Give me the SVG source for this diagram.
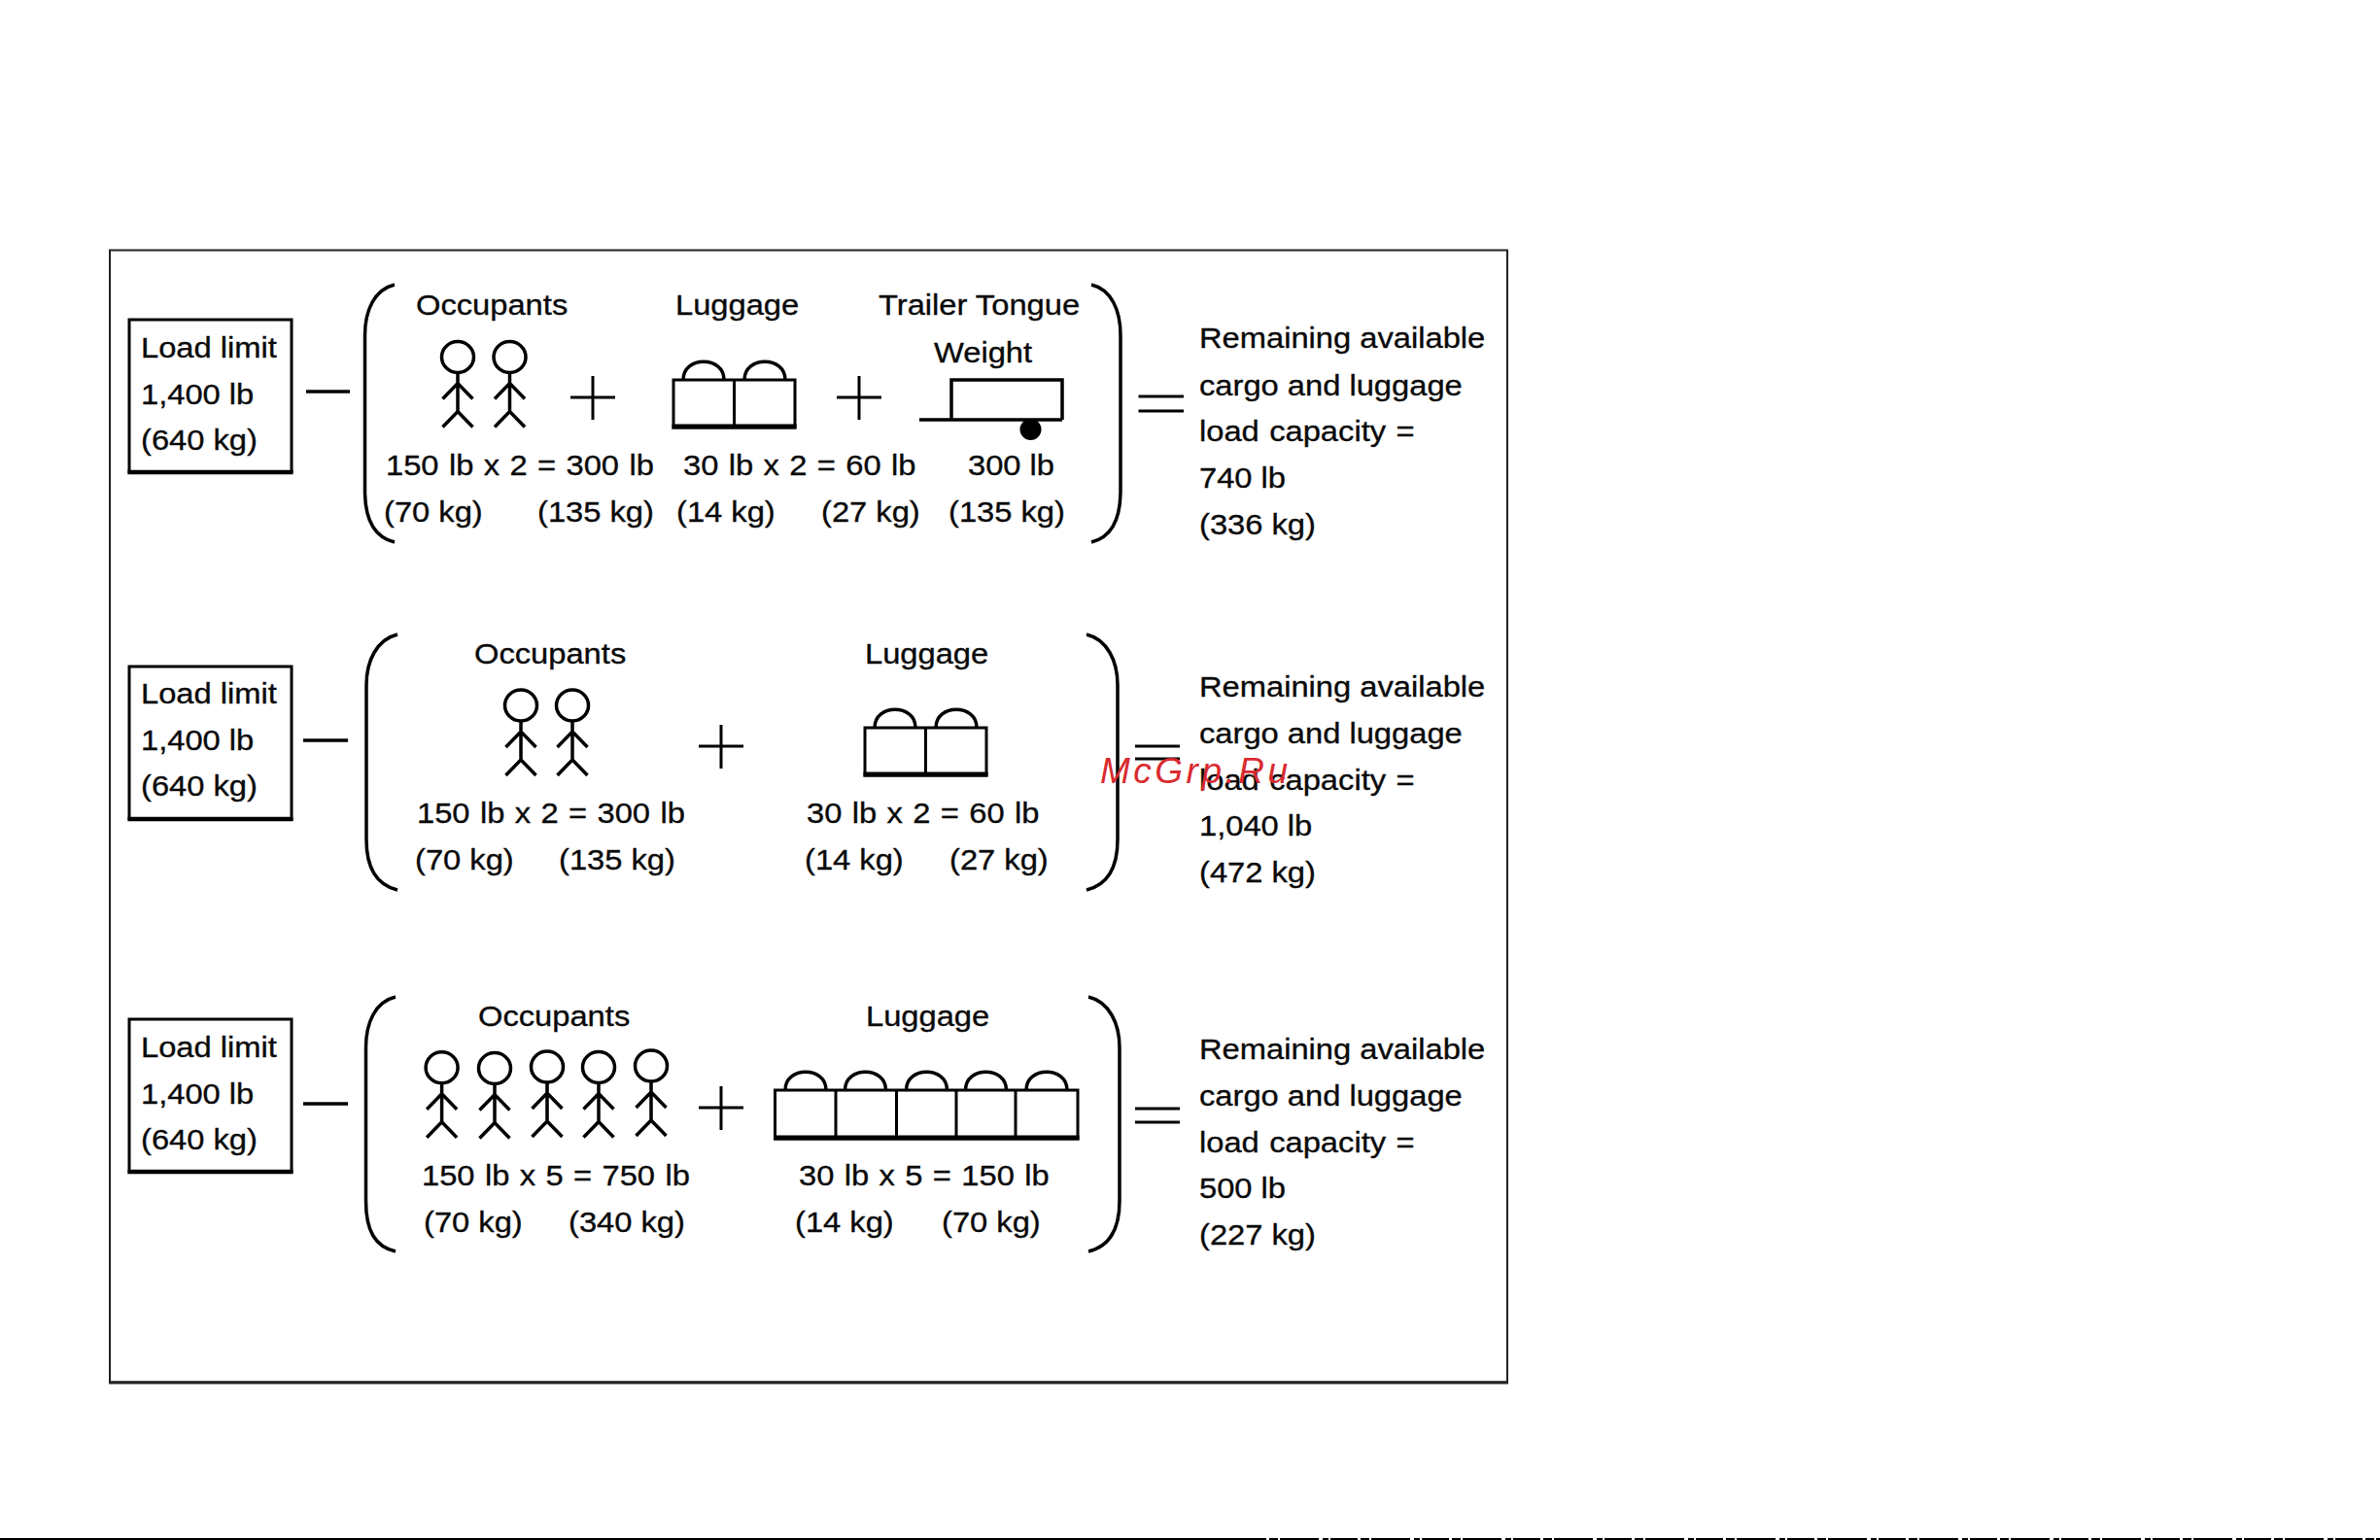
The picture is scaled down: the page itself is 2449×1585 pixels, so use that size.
<svg xmlns="http://www.w3.org/2000/svg" width="2449" height="1585" viewBox="0 0 2449 1585">
<style>
.t{font-family:"Liberation Sans",Arial,sans-serif;font-size:30px;fill:#0a0a0a;stroke:#0a0a0a;stroke-width:.35px}
.e{word-spacing:1.2px}
.l{fill:none;stroke:#000;stroke-width:3.500}
.th{fill:none;stroke:#000;stroke-width:3}
.box{fill:#fff;stroke:#000;stroke-width:3}
.wm{font-family:"Liberation Sans",Arial,sans-serif;font-style:italic;font-size:37px;letter-spacing:3.500px;fill:#d92b2f}
</style>
<defs>
<g id="person" class="l"><ellipse cx="0" cy="0" rx="16.500" ry="16"/><path d="M0 16V56M-15.500 43L0 27L15.500 43M-15.500 72L0 56L15.500 72"/></g>
<g id="plus" class="th"><path d="M-23 0H23M0 -22V23"/></g>
<path id="handle" class="l" d="M0 0C0 -25 42 -25 42 0"/>
<g id="bags2"><rect class="box" x="0" y="0" width="125" height="49"/><path d="M-1.500 48H126.500" fill="none" stroke="#000" stroke-width="5"/><path class="th" d="M62.500 0V49"/><use href="#handle" x="10"/><use href="#handle" x="73"/></g>
<g id="load"><rect class="box" x="1" y="0" width="167" height="157"/><path d="M-.5 157H169.500" fill="none" stroke="#000" stroke-width="4.500"/></g>
</defs>
<rect x="0" y="0" width="2449" height="1585" fill="#fff"/>
<g id="frame"><rect x="113" y="257.500" width="1438" height="1165" fill="none" stroke="#222" stroke-width="2"/><path d="M112 1423H1552" stroke="#222" stroke-width="3"/></g>

<g id="connectors">
<path class="l" d="M315 403H360M312 762H358M312 1136H358"/>
<path class="th" d="M1171.500 408H1218M1171.500 423H1218M1168 768H1214M1168 781H1214M1168 1141H1214M1168 1155H1214"/>
</g>

<g id="row1">
<g id="load1"><use href="#load" x="132" y="329"/>
<text class="t" transform="translate(145 368) scale(1.09 1)">Load limit</text>
<text class="t" transform="translate(145 416) scale(1.09 1)">1,400 lb</text>
<text class="t" transform="translate(145 463) scale(1.09 1)">(640 kg)</text></g>
<path id="lb1" class="l" d="M406 293C385 298 375.500 320 375.500 345V505C375.500 535 385 553 406 558"/>
<path id="rb1" class="l" d="M1123 293C1144 298 1153 320 1153 345V505C1153 535 1144 553 1123 558"/>
<g id="occ1">
<text class="t" transform="translate(428 324) scale(1.09 1)">Occupants</text>
<use href="#person" x="471" y="367.500"/><use href="#person" x="524.500" y="367.500"/>
<text class="t e" transform="translate(397 489) scale(1.09 1)">150 lb x 2 = 300 lb</text>
<text class="t" transform="translate(395 537) scale(1.09 1)">(70 kg)</text>
<text class="t" transform="translate(553 537) scale(1.09 1)">(135 kg)</text></g>
<use id="plus1a" href="#plus" x="610" y="409"/>
<g id="lug1">
<text class="t" transform="translate(695 324) scale(1.09 1)">Luggage</text>
<use href="#bags2" x="693" y="391"/>
<text class="t e" transform="translate(703 489) scale(1.09 1)">30 lb x 2 = 60 lb</text>
<text class="t" transform="translate(696 537) scale(1.09 1)">(14 kg)</text>
<text class="t" transform="translate(845 537) scale(1.09 1)">(27 kg)</text></g>
<use id="plus1b" href="#plus" x="884" y="409"/>
<g id="tongue">
<text class="t" transform="translate(904 324) scale(1.09 1)">Trailer Tongue</text>
<text class="t" transform="translate(961 373) scale(1.09 1)">Weight</text>
<path class="l" d="M979 432V391H1093V432M946 432H1093"/><circle cx="1060.500" cy="442" r="11"/>
<text class="t" transform="translate(996 489) scale(1.09 1)">300 lb</text>
<text class="t" transform="translate(976 537) scale(1.09 1)">(135 kg)</text></g>
<g id="res1">
<text class="t" transform="translate(1234 358) scale(1.09 1)">Remaining available</text>
<text class="t" transform="translate(1234 407) scale(1.09 1)">cargo and luggage</text>
<text class="t e" transform="translate(1234 454) scale(1.09 1)">load capacity =</text>
<text class="t" transform="translate(1234 502) scale(1.09 1)">740 lb</text>
<text class="t" transform="translate(1234 550) scale(1.09 1)">(336 kg)</text></g>
</g>

<g id="row2">
<g id="load2"><use href="#load" x="132" y="686"/>
<text class="t" transform="translate(145 724) scale(1.09 1)">Load limit</text>
<text class="t" transform="translate(145 772) scale(1.09 1)">1,400 lb</text>
<text class="t" transform="translate(145 819) scale(1.09 1)">(640 kg)</text></g>
<path id="lb2" class="l" d="M409 653C388 658 377 680 377 705V864C377 895 388 911 409 916"/>
<path id="rb2" class="l" d="M1118 653C1139 658 1150 680 1150 705V864C1150 895 1139 911 1118 916"/>
<g id="occ2">
<text class="t" transform="translate(488 682.500) scale(1.09 1)">Occupants</text>
<use href="#person" x="536" y="726"/><use href="#person" x="589" y="726"/>
<text class="t e" transform="translate(429 847) scale(1.09 1)">150 lb x 2 = 300 lb</text>
<text class="t" transform="translate(427 895) scale(1.09 1)">(70 kg)</text>
<text class="t" transform="translate(575 895) scale(1.09 1)">(135 kg)</text></g>
<use id="plus2" href="#plus" x="742" y="768"/>
<g id="lug2">
<text class="t" transform="translate(890 682.500) scale(1.09 1)">Luggage</text>
<use href="#bags2" x="890" y="749"/>
<text class="t e" transform="translate(830 847) scale(1.09 1)">30 lb x 2 = 60 lb</text>
<text class="t" transform="translate(828 895) scale(1.09 1)">(14 kg)</text>
<text class="t" transform="translate(977 895) scale(1.09 1)">(27 kg)</text></g>
<g id="res2">
<text class="t" transform="translate(1234 717) scale(1.09 1)">Remaining available</text>
<text class="t" transform="translate(1234 765) scale(1.09 1)">cargo and luggage</text>
<text class="t e" transform="translate(1234 813) scale(1.09 1)">load capacity =</text>
<text class="t" transform="translate(1234 860) scale(1.09 1)">1,040 lb</text>
<text class="t" transform="translate(1234 908) scale(1.09 1)">(472 kg)</text></g>
</g>

<g id="row3">
<g id="load3"><use href="#load" x="132" y="1049"/>
<text class="t" transform="translate(145 1088) scale(1.09 1)">Load limit</text>
<text class="t" transform="translate(145 1136) scale(1.09 1)">1,400 lb</text>
<text class="t" transform="translate(145 1183) scale(1.09 1)">(640 kg)</text></g>
<path id="lb3" class="l" d="M407 1026C386 1031 376.500 1053 376.500 1078V1236C376.500 1267 386 1283 407 1288"/>
<path id="rb3" class="l" d="M1120 1026C1141 1031 1152 1053 1152 1078V1236C1152 1267 1141 1283 1120 1288"/>
<g id="occ3">
<text class="t" transform="translate(492 1056) scale(1.09 1)">Occupants</text>
<use href="#person" x="454.600" y="1098.700"/><use href="#person" x="509" y="1099.500"/><use href="#person" x="563" y="1098"/><use href="#person" x="616" y="1098.500"/><use href="#person" x="670" y="1097"/>
<text class="t e" transform="translate(434 1220) scale(1.09 1)">150 lb x 5 = 750 lb</text>
<text class="t" transform="translate(436 1268) scale(1.09 1)">(70 kg)</text>
<text class="t" transform="translate(585 1268) scale(1.09 1)">(340 kg)</text></g>
<use id="plus3" href="#plus" x="742" y="1140"/>
<g id="lug3">
<text class="t" transform="translate(891 1056) scale(1.09 1)">Luggage</text>
<rect class="box" x="797.500" y="1122" width="311.500" height="50"/><path d="M796 1171H1110.500" fill="none" stroke="#000" stroke-width="5"/>
<path class="th" d="M860 1122V1172M922.500 1122V1172M984 1122V1172M1045 1122V1172"/>
<use href="#handle" x="808" y="1122"/><use href="#handle" x="869.500" y="1122"/><use href="#handle" x="932.500" y="1122"/><use href="#handle" x="993.500" y="1122"/><use href="#handle" x="1056" y="1122"/>
<text class="t e" transform="translate(822 1220) scale(1.09 1)">30 lb x 5 = 150 lb</text>
<text class="t" transform="translate(818 1268) scale(1.09 1)">(14 kg)</text>
<text class="t" transform="translate(969 1268) scale(1.09 1)">(70 kg)</text></g>
<g id="res3">
<text class="t" transform="translate(1234 1090) scale(1.09 1)">Remaining available</text>
<text class="t" transform="translate(1234 1138) scale(1.09 1)">cargo and luggage</text>
<text class="t e" transform="translate(1234 1186) scale(1.09 1)">load capacity =</text>
<text class="t" transform="translate(1234 1233) scale(1.09 1)">500 lb</text>
<text class="t" transform="translate(1234 1281) scale(1.09 1)">(227 kg)</text></g>
</g>

<text id="watermark" class="wm" x="1132" y="806">McGrp.Ru</text>
<g id="edge"><path d="M0 1584H1275" stroke="#000" stroke-width="2"/><path d="M1275 1584H2449" stroke="#000" stroke-width="2" stroke-dasharray="28 3 9 2 40 4 6 2"/></g>
</svg>
